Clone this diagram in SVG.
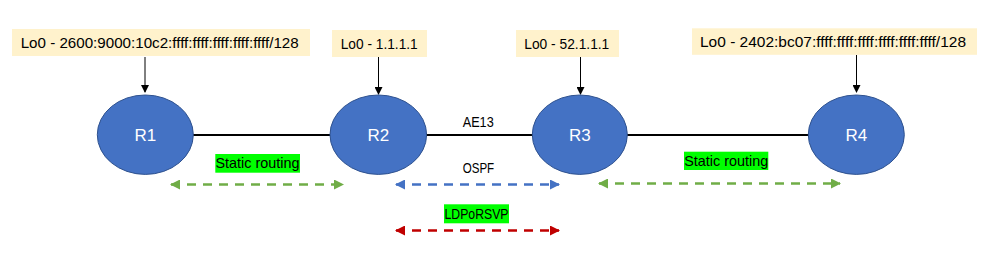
<svg xmlns="http://www.w3.org/2000/svg" width="1008" height="254" viewBox="0 0 1008 254">
<style>
text{font-family:"Liberation Sans",Arial,sans-serif;font-size:14.5px;fill:#000}
.lbl{fill:#FFF2CC}
.hl{fill:#00FF00}
.node{fill:#4472C4;stroke:#2F528F;stroke-width:1}
.ntext{fill:#fff;font-size:17px;text-anchor:middle}
.link{stroke:#000;stroke-width:2}
.ptr{stroke:#000;stroke-width:1;marker-end:url(#ab)}
.dash{stroke-width:2.5;stroke-dasharray:9,7;fill:none}
</style>
<defs>
<marker id="ab" markerWidth="8" markerHeight="8" refX="7" refY="4" orient="auto" markerUnits="userSpaceOnUse"><path d="M0,0 L8,4 L0,8 z" fill="#000"/></marker>
<marker id="ag" markerWidth="10" markerHeight="10" refX="9" refY="5" orient="auto-start-reverse" markerUnits="userSpaceOnUse"><path d="M0,0 L10,5 L0,10 z" fill="#70AD47"/></marker>
<marker id="abl" markerWidth="10" markerHeight="10" refX="9" refY="5" orient="auto-start-reverse" markerUnits="userSpaceOnUse"><path d="M0,0 L10,5 L0,10 z" fill="#4472C4"/></marker>
<marker id="ar" markerWidth="10" markerHeight="10" refX="9" refY="5" orient="auto-start-reverse" markerUnits="userSpaceOnUse"><path d="M0,0 L10,5 L0,10 z" fill="#C00000"/></marker>
</defs>
<rect width="1008" height="254" fill="#fff"/>
<g id="connectors">
<line class="link" x1="193" y1="135" x2="331" y2="135"/>
<line class="link" x1="426" y1="135" x2="533" y2="135"/>
<line class="link" x1="627" y1="135" x2="809" y2="135"/>
<line class="ptr" x1="145" y1="57" x2="145" y2="92"/>
<line class="ptr" x1="378.5" y1="57" x2="378.5" y2="94"/>
<line class="ptr" x1="580.5" y1="57" x2="580.5" y2="94"/>
<line class="ptr" x1="856.5" y1="55" x2="856.5" y2="92"/>
<line class="dash" stroke="#70AD47" x1="171" y1="184.5" x2="343" y2="184.5" marker-start="url(#ag)" marker-end="url(#ag)"/>
<line class="dash" stroke="#4472C4" x1="396" y1="184.5" x2="559" y2="184.5" marker-start="url(#abl)" marker-end="url(#abl)"/>
<line class="dash" stroke="#70AD47" x1="599" y1="183.5" x2="840" y2="183.5" marker-start="url(#ag)" marker-end="url(#ag)"/>
<line class="dash" stroke="#C00000" x1="396" y1="230.5" x2="559" y2="230.5" marker-start="url(#ar)" marker-end="url(#ar)"/>
</g>
<g id="lo-r1"><rect class="lbl" x="12" y="29" width="298" height="27"/><text x="20.7" y="47.5" textLength="278" lengthAdjust="spacingAndGlyphs">Lo0 - 2600:9000:10c2:ffff:ffff:ffff:ffff:ffff/128</text></g>
<g id="lo-r2"><rect class="lbl" x="332" y="30" width="95" height="27"/><text x="340.7" y="48.5" textLength="77" lengthAdjust="spacingAndGlyphs">Lo0 - 1.1.1.1</text></g>
<g id="lo-r3"><rect class="lbl" x="516" y="30" width="103" height="27"/><text x="524.3" y="48.5" textLength="85" lengthAdjust="spacingAndGlyphs">Lo0 - 52.1.1.1</text></g>
<g id="lo-r4"><rect class="lbl" x="692" y="28.3" width="285" height="26.5"/><text x="700" y="47" textLength="266" lengthAdjust="spacingAndGlyphs">Lo0 - 2402:bc07:ffff:ffff:ffff:ffff:ffff:ffff/128</text></g>
<g id="R1"><ellipse class="node" cx="145.3" cy="134.7" rx="48" ry="39.7"/><text class="ntext" x="145.3" y="141">R1</text></g>
<g id="R2"><ellipse class="node" cx="378.3" cy="134.7" rx="48.3" ry="39.7"/><text class="ntext" x="378.3" y="141">R2</text></g>
<g id="R3"><ellipse class="node" cx="579.8" cy="134.7" rx="47.5" ry="39.7"/><text class="ntext" x="579.8" y="141">R3</text></g>
<g id="R4"><ellipse class="node" cx="856.3" cy="134.7" rx="48" ry="39.7"/><text class="ntext" x="856.3" y="141">R4</text></g>
<g id="static1"><rect class="hl" x="215.3" y="154" width="84.7" height="18.7"/><text x="215.5" y="168" textLength="84" lengthAdjust="spacingAndGlyphs">Static routing</text></g>
<g id="static2"><rect class="hl" x="684" y="151.7" width="84.3" height="18.3"/><text x="684.2" y="165.7" textLength="84" lengthAdjust="spacingAndGlyphs">Static routing</text></g>
<g id="ae13"><text x="462.7" y="126.5" textLength="31" lengthAdjust="spacingAndGlyphs">AE13</text></g>
<g id="ospf"><text x="462.7" y="173" textLength="31.5" lengthAdjust="spacingAndGlyphs">OSPF</text></g>
<g id="ldp"><rect class="hl" x="444" y="204.3" width="65" height="19"/><text x="444.5" y="219" textLength="64" lengthAdjust="spacingAndGlyphs">LDPoRSVP</text></g>
</svg>
